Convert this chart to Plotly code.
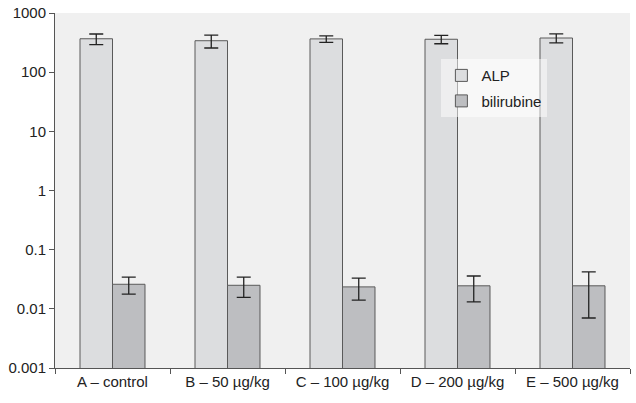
import plotly.graph_objects as go

categories = ["A – control", "B – 50 µg/kg", "C – 100 µg/kg", "D – 200 µg/kg", "E – 500 µg/kg"]
alp_values = [367, 340, 365, 360, 378]
alp_errors = [75, 84, 47, 58, 65]
bili_values = [0.026, 0.025, 0.0235, 0.0245, 0.0245]
bili_errors = [0.0083, 0.0094, 0.0095, 0.0114, 0.0175]
y_tickvals = [0.001, 0.01, 0.1, 1, 10, 100, 1000]
y_ticktext = ["0.001", "0.01", "0.1", "1", "10", "100", "1000"]

font = dict(family="Liberation Sans, Arial, sans-serif", size=15, color="#222222")

fig = go.Figure()
fig.add_trace(go.Bar(
    name="ALP", x=categories, y=alp_values, legendgroup="a",
    marker=dict(color="#dcdddf", line=dict(color="#5a5a5a", width=1)),
    error_y=dict(type="data", array=alp_errors, color="#222222", thickness=1.3, width=7),
))
fig.add_trace(go.Bar(
    name="bilirubine", x=categories, y=bili_values, legendgroup="b",
    marker=dict(color="#bdbec1", line=dict(color="#5a5a5a", width=1)),
    error_y=dict(type="data", array=bili_errors, color="#222222", thickness=1.3, width=7),
))

fig.update_layout(
    width=636, height=403,
    margin=dict(l=55, r=6, t=13, b=35, autoexpand=False),
    paper_bgcolor="white", plot_bgcolor="#f0f0f0",
    font=font,
    barmode="group", bargap=0.435, bargroupgap=0,
    showlegend=True,
    legend=dict(x=0.672, y=0.87, xanchor="left", yanchor="top",
                bgcolor="rgba(255,255,255,0.5)", font=dict(size=15, color="#222222"),
                tracegroupgap=3, itemwidth=30),
)
fig.update_xaxes(
    automargin=False,
    showline=True, linecolor="#555555", linewidth=1,
    ticks="outside", tickson="boundaries", ticklen=5, tickcolor="#555555",
    showgrid=False, tickfont=dict(size=15),
)
fig.update_yaxes(
    automargin=False, ticklabeloverflow="allow",
    type="log", range=[-3, 3],
    tickvals=y_tickvals, ticktext=y_ticktext,
    showline=True, linecolor="#555555", linewidth=1,
    ticks="outside", ticklen=5, tickcolor="#555555",
    showgrid=False, zeroline=False, tickfont=dict(size=15),
)

# remove the browser's default 8px body margin so the 636x403 figure fills the window
fig.write_html("out.html", config={"displayModeBar": False},
               post_script="document.body.style.margin='0';")
